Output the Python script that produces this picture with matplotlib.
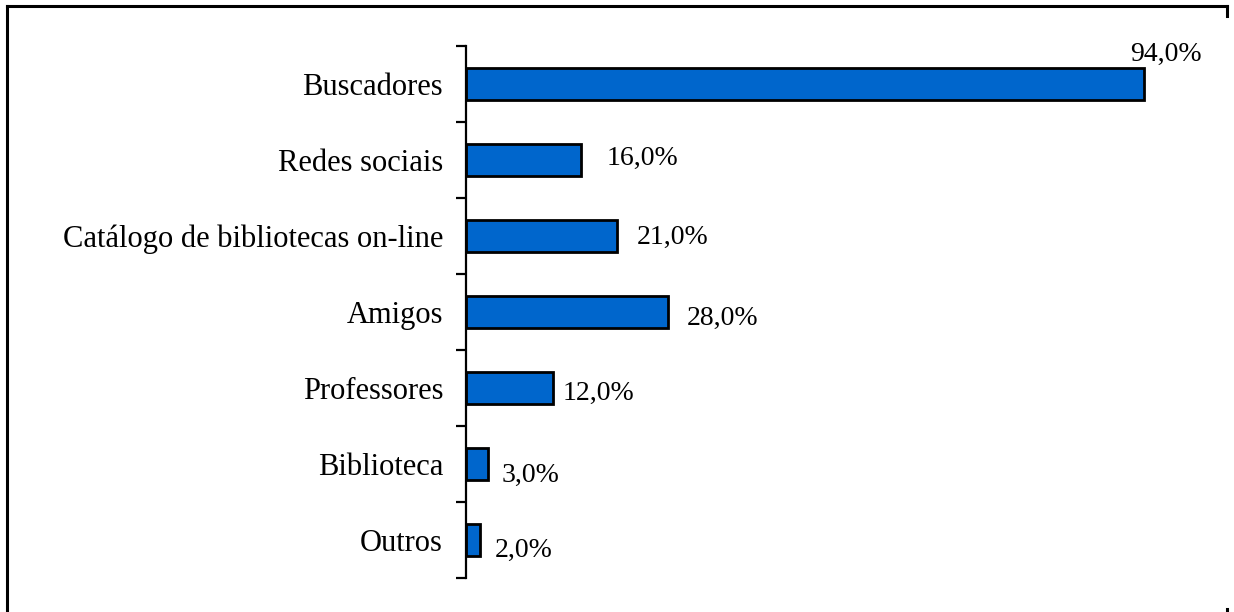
import matplotlib
matplotlib.use("Agg")
import matplotlib.pyplot as plt
from matplotlib.lines import Line2D
import numpy as np

categories = ["Buscadores", "Redes sociais", "Catálogo de bibliotecas on-line",
              "Amigos", "Professores", "Biblioteca", "Outros"]
values = [94.0, 16.0, 21.0, 28.0, 12.0, 3.0, 2.0]
labels = ["94,0%", "16,0%", "21,0%", "28,0%", "12,0%", "3,0%", "2,0%"]

# label placement (pixels): horizontal gap from bar end, baseline offset below bar centre
label_dx = [-14, 25, 19, 19, 10, 14, 14]
label_dy = [-23, 5, 8, 13, 12, 18, 17]

plt.rcParams['font.family'] = ['Liberation Serif', 'DejaVu Serif']

W, H = 1234, 612
fig = plt.figure(figsize=(W/100, H/100), dpi=100)
ax = fig.add_axes([466/W, 1-578/H, (1187-466)/W, (578-46)/H])

y = np.arange(len(categories))
ax.barh(y, values, height=0.41, color="#0066CC", edgecolor="black", linewidth=2.0)
ax.set_xlim(0, 100)
ax.set_ylim(len(categories)-0.5, -0.5)

ax.set_yticks(y)
ax.set_yticklabels(categories, fontsize=22)
ax.tick_params(axis='y', which='major', length=0, pad=16.5)
ax.set_yticks(np.arange(-0.5, len(categories)), minor=True)
ax.tick_params(axis='y', which='minor', length=7, width=1.6, direction='out')
ax.set_xticks([])
for s in ["top", "right", "bottom"]:
    ax.spines[s].set_visible(False)
ax.spines["left"].set_linewidth(1.6)

for i, (v, lab) in enumerate(zip(values, labels)):
    ax.annotate(lab, (v, i), xytext=(label_dx[i], -label_dy[i]), textcoords="offset pixels",
                ha="left", va="baseline", fontsize=20)

# figure border
fig.add_artist(Line2D([7/W, 7/W], [0, 1-6/H], transform=fig.transFigure, color="black", lw=2.2))
fig.add_artist(Line2D([7/W, 1227/W], [1-6/H, 1-6/H], transform=fig.transFigure, color="black", lw=2.2))
fig.add_artist(Line2D([1227/W, 1227/W], [1-6/H, 1-16/H], transform=fig.transFigure, color="black", lw=2.2))
fig.add_artist(Line2D([1227/W, 1227/W], [0, 3/H], transform=fig.transFigure, color="black", lw=2.2))

fig.savefig("out.png", dpi=100)
